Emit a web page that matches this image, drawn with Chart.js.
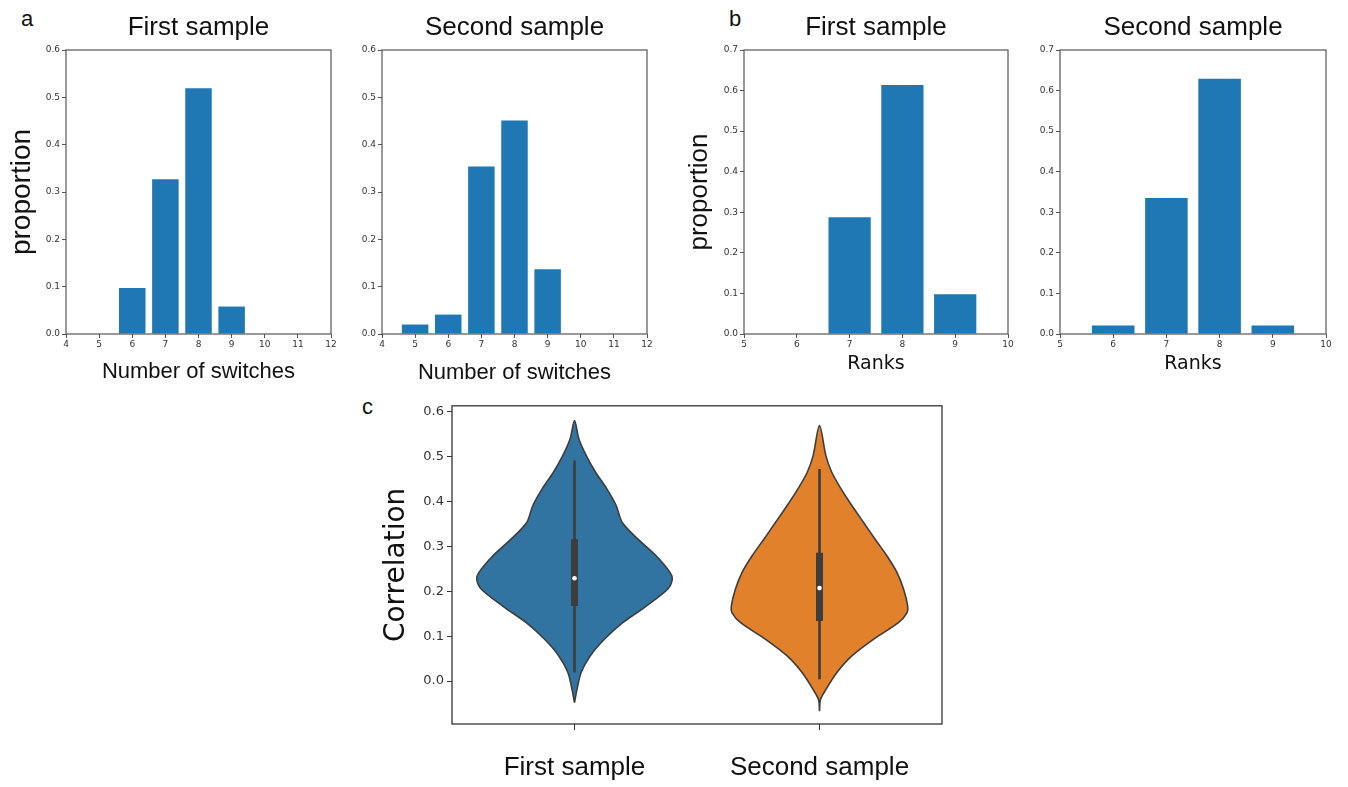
<!DOCTYPE html>
<html>
<head>
<meta charset="utf-8">
<title>Switches, ranks and correlation</title>
<script src="https://cdn.jsdelivr.net/npm/chart.js@4.4.0/dist/chart.umd.min.js"></script>
<style>
  body { margin: 0; background: #fff; }
  #page { position: relative; width: 1348px; height: 787px; overflow: hidden; }
  .panel { position: absolute; }
  .letter { position: absolute; font-family: 'Liberation Sans', Arial, sans-serif; font-size: 22px; line-height: 22px; color: #111; }
</style>
</head>
<body>
<div id="page">
  <div class="letter" style="left:21px; top:8px">a</div>
  <div class="letter" style="left:729px; top:8px">b</div>
  <div class="letter" style="left:362px; top:396px">c</div>

  <div class="panel" style="left:0px; top:0px; width:345px; height:390px"><canvas id="switchFirst"></canvas></div>
  <div class="panel" style="left:345px; top:0px; width:316px; height:390px"><canvas id="switchSecond"></canvas></div>
  <div class="panel" style="left:680px; top:0px; width:342px; height:390px"><canvas id="rankFirst"></canvas></div>
  <div class="panel" style="left:1022px; top:0px; width:318px; height:390px"><canvas id="rankSecond"></canvas></div>
  <div class="panel" style="left:360px; top:395px; width:600px; height:392px"><canvas id="violin"></canvas></div>
</div>

<script>
// panel a: number of switches
const switchCounts = [5, 6, 7, 8, 9];
const switchFirstValues = [0, 0.097, 0.327, 0.519, 0.058];
const switchSecondValues = [0.020, 0.041, 0.354, 0.451, 0.137];
const switchTicks = [4, 5, 6, 7, 8, 9, 10, 11, 12];
const switchPropTicks = [0, 0.1, 0.2, 0.3, 0.4, 0.5, 0.6];

// panel b: ranks
const rankValues = [6, 7, 8, 9];
const rankFirstValues = [0, 0.288, 0.614, 0.098];
const rankSecondValues = [0.021, 0.335, 0.629, 0.021];
const rankTicks = [5, 6, 7, 8, 9, 10];
const rankPropTicks = [0, 0.1, 0.2, 0.3, 0.4, 0.5, 0.6, 0.7];

// panel c: violins (correlation level -> half width of the violin)
const samples = ['First sample', 'Second sample'];
const corrTicks = [0, 0.1, 0.2, 0.3, 0.4, 0.5, 0.6];
const firstLevels = [-0.048, -0.019, 0.019, 0.056, 0.093, 0.130, 0.167, 0.205, 0.227, 0.242, 0.279, 0.316, 0.353, 0.391, 0.428, 0.465, 0.502, 0.539, 0.580];
const firstWidths = [0, 0.010, 0.027, 0.064, 0.122, 0.197, 0.293, 0.381, 0.399, 0.390, 0.333, 0.259, 0.195, 0.170, 0.132, 0.086, 0.048, 0.018, 0];
const secondLevels = [-0.067, -0.041, -0.019, 0.019, 0.056, 0.093, 0.130, 0.152, 0.167, 0.205, 0.242, 0.279, 0.316, 0.353, 0.391, 0.428, 0.465, 0.502, 0.569];
const secondWidths = [0, 0.004, 0.026, 0.071, 0.132, 0.220, 0.322, 0.357, 0.360, 0.343, 0.316, 0.275, 0.227, 0.180, 0.132, 0.088, 0.050, 0.026, 0];
// whisker low, q1, median, q3, whisker high
const firstBox = [0.019, 0.167, 0.229, 0.316, 0.491];
const secondBox = [0.004, 0.134, 0.207, 0.286, 0.472];

const barBlue = '#1f77b4';
const violinColors = ['#3274a1', '#e1812c'];
const inkDark = '#3d3d3d';

const framePlugin = {
  id: 'frame',
  afterDatasetsDraw(chart, args, opts) {
    const { ctx, chartArea: a } = chart;
    ctx.save();
    ctx.strokeStyle = opts.color;
    ctx.lineWidth = opts.width;
    ctx.strokeRect(a.left, a.top, a.right - a.left, a.bottom - a.top);
    ctx.restore();
  }
};

function barChart(id, xs, ys, xTicks, yTicks, cfg) {
  const ctx = document.getElementById(id).getContext('2d');
  return new Chart(ctx, {
    type: 'bar',
    data: {
      datasets: [{
        data: xs.map((x, i) => ({ x: x, y: ys[i] })),
        backgroundColor: barBlue,
        borderWidth: 0,
        categoryPercentage: 1,
        barPercentage: 0.8
      }]
    },
    plugins: [framePlugin],
    options: {
      responsive: true,
      maintainAspectRatio: false,
      animation: false,
      layout: { padding: { left: 0, right: 14, top: 0, bottom: 0 } },
      plugins: {
        legend: { display: false },
        tooltip: { enabled: false },
        frame: { color: '#555', width: 1.2 },
        title: {
          display: true,
          text: cfg.title,
          fullSize: false,
          color: '#111',
          font: { family: 'Liberation Sans', size: 26, weight: 'normal' },
          padding: { top: 12.4, bottom: 6.4 }
        }
      },
      scales: {
        x: {
          type: 'linear',
          offset: false,
          min: xTicks[0],
          max: xTicks[xTicks.length - 1],
          afterBuildTicks: s => { s.ticks = xTicks.map(v => ({ value: v })); },
          afterFit: s => { s.height = 56; },
          grid: { offset: false, drawOnChartArea: false, tickLength: 4, color: '#555' },
          border: { display: false },
          ticks: {
            padding: 1,
            color: '#333',
            font: { family: 'DejaVu Sans', size: 9 },
            maxRotation: 0,
            autoSkip: false
          },
          title: {
            display: true,
            text: cfg.xTitle,
            color: '#111',
            font: cfg.xFont,
            padding: { top: 0, bottom: cfg.xPad }
          }
        },
        y: {
          min: 0,
          max: yTicks[yTicks.length - 1],
          afterBuildTicks: s => { s.ticks = yTicks.map(v => ({ value: v })); },
          afterFit: s => { s.width = cfg.left; },
          grid: { drawOnChartArea: false, tickLength: 4, color: '#555' },
          border: { display: false },
          ticks: {
            padding: 2,
            color: '#333',
            font: { family: 'DejaVu Sans', size: 9 },
            callback: v => v.toFixed(1)
          },
          title: {
            display: !!cfg.yTitle,
            text: cfg.yTitle || '',
            color: '#111',
            font: { family: 'Liberation Sans', size: cfg.yTitleSize || 28 },
            padding: { top: cfg.yPad || 0, bottom: 0 }
          }
        }
      }
    }
  });
}

const switchFont = { family: 'Liberation Sans', size: 22 };
const rankFont = { family: 'DejaVu Sans', size: 19 };

barChart('switchFirst', switchCounts, switchFirstValues, switchTicks, switchPropTicks, {
  title: 'First sample', xTitle: 'Number of switches', xFont: switchFont, xPad: 4.8,
  left: 66, yTitle: 'proportion', yTitleSize: 28, yPad: 5.2
});
barChart('switchSecond', switchCounts, switchSecondValues, switchTicks, switchPropTicks, {
  title: 'Second sample', xTitle: 'Number of switches', xFont: switchFont, xPad: 3.8,
  left: 37
});
barChart('rankFirst', rankValues, rankFirstValues, rankTicks, rankPropTicks, {
  title: 'First sample', xTitle: 'Ranks', xFont: rankFont, xPad: 14.6,
  left: 64, yTitle: 'proportion', yTitleSize: 26, yPad: 4.4
});
barChart('rankSecond', rankValues, rankSecondValues, rankTicks, rankPropTicks, {
  title: 'Second sample', xTitle: 'Ranks', xFont: rankFont, xPad: 14.6,
  left: 38
});

// violin outline: up the right side, back down the left side
function outline(pos, levels, widths) {
  const pts = levels.map((y, i) => ({ x: pos + widths[i], y: y }));
  for (let i = levels.length - 2; i >= 0; i--) {
    pts.push({ x: pos - widths[i], y: levels[i] });
  }
  return pts;
}

function violinSets(pos, levels, widths, box, color) {
  return [
    {
      data: outline(pos, levels, widths),
      showLine: true,
      fill: 'shape',
      backgroundColor: color,
      borderColor: inkDark,
      borderWidth: 1.6,
      tension: 0.3,
      pointRadius: 0,
      order: 3
    },
    {
      data: [{ x: pos, y: box[0] }, { x: pos, y: box[4] }],
      showLine: true,
      borderColor: inkDark,
      borderWidth: 2.6,
      pointRadius: 0,
      order: 2
    },
    {
      data: [{ x: pos, y: box[1] }, { x: pos, y: box[3] }],
      showLine: true,
      borderColor: inkDark,
      borderWidth: 7,
      borderCapStyle: 'butt',
      pointRadius: 0,
      order: 1
    },
    {
      data: [{ x: pos, y: box[2] }],
      showLine: false,
      pointRadius: 2.3,
      pointBorderWidth: 0,
      pointBackgroundColor: '#ffffff',
      order: 0
    }
  ];
}

new Chart(document.getElementById('violin').getContext('2d'), {
  type: 'scatter',
  data: {
    datasets: [
      ...violinSets(0, firstLevels, firstWidths, firstBox, violinColors[0]),
      ...violinSets(1, secondLevels, secondWidths, secondBox, violinColors[1])
    ]
  },
  plugins: [framePlugin],
  options: {
    responsive: true,
    maintainAspectRatio: false,
    animation: false,
    layout: { padding: { left: 0, right: 18, top: 10, bottom: 0 } },
    plugins: {
      legend: { display: false },
      tooltip: { enabled: false },
      frame: { color: '#333', width: 1.3 }
    },
    scales: {
      x: {
        type: 'linear',
        min: -0.5,
        max: 1.5,
        afterBuildTicks: s => { s.ticks = samples.map((_, i) => ({ value: i })); },
        afterFit: s => { s.height = 63; },
        grid: { drawOnChartArea: false, tickLength: 6, color: '#333' },
        border: { display: false },
        ticks: {
          padding: 22,
          color: '#111',
          font: { family: 'Liberation Sans', size: 26 },
          maxRotation: 0,
          autoSkip: false,
          callback: v => samples[Math.round(v)]
        }
      },
      y: {
        min: -0.0956,
        max: 0.613,
        afterBuildTicks: s => { s.ticks = corrTicks.map(v => ({ value: v })); },
        afterFit: s => { s.width = 92; },
        grid: { drawOnChartArea: false, tickLength: 5, color: '#333' },
        border: { display: false },
        ticks: {
          padding: 3,
          color: '#333',
          font: { family: 'DejaVu Sans', size: 13 },
          callback: v => v.toFixed(1)
        },
        title: {
          display: true,
          text: 'Correlation',
          color: '#111',
          font: { family: 'DejaVu Sans', size: 28 },
          padding: { top: 20.2, bottom: 0 }
        }
      }
    }
  }
});
</script>
</body>
</html>
